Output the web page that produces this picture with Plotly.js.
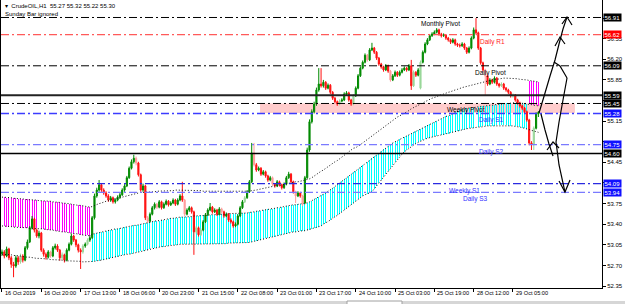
<!DOCTYPE html>
<html><head><meta charset="utf-8">
<script src="https://cdn.plot.ly/plotly-3.0.1.min.js"></script>
<style>html,body{margin:0;padding:0;background:#fff}#chart{width:625px;height:304px}</style>
</head><body><div id="chart"></div>
<script>
// ---- data ----
const open = [
52.90,52.93,52.86,52.98,52.83,52.72,52.69,52.83,52.76,52.86,
52.79,53.00,53.10,53.34,53.49,53.30,53.20,53.25,52.96,52.89,
52.84,52.93,52.86,53.00,53.03,52.96,52.83,52.88,52.79,52.96,
53.06,53.20,53.13,53.05,52.96,52.93,53.03,53.06,53.13,53.17,
53.51,53.88,53.98,54.07,53.98,53.93,53.88,53.81,53.85,53.78,
53.81,53.86,53.90,53.98,54.05,54.19,54.35,54.46,54.52,54.44,
54.24,53.98,54.05,53.51,53.45,53.57,53.68,53.74,53.69,53.78,
53.68,53.74,53.79,53.73,53.76,53.81,53.74,53.81,53.88,53.81,
53.57,53.64,53.68,53.61,53.27,53.34,53.22,53.30,53.44,53.56,
53.64,53.69,53.61,53.64,53.57,53.66,53.61,53.54,53.57,53.47,
53.44,53.37,53.40,53.54,53.68,53.78,53.85,53.95,54.12,54.61,
54.41,54.32,54.35,54.25,54.29,54.22,54.15,54.19,54.08,54.05,
54.12,54.07,54.02,54.08,54.19,54.25,54.12,53.95,53.88,53.93,
53.88,53.76,54.19,54.66,55.14,55.31,55.44,55.68,55.78,55.75,
55.81,55.71,55.76,55.64,55.54,55.48,55.44,55.49,55.51,55.61,
55.63,55.51,55.44,55.58,55.71,55.92,56.05,56.15,56.27,56.19,
56.36,56.39,56.32,56.22,56.12,56.07,56.02,56.09,56.00,55.85,
55.92,55.98,55.93,55.98,56.02,56.05,56.02,56.09,55.75,55.98,
55.93,55.71,56.15,56.32,56.46,56.53,56.60,56.63,56.66,56.70,
56.63,56.60,56.61,56.56,56.53,56.49,56.53,56.46,56.44,56.43,
56.46,56.39,56.32,56.39,56.56,56.70,56.65,56.39,56.14,56.02,
55.92,55.78,55.85,55.81,55.88,55.78,55.75,55.78,55.71,55.68,
55.64,55.58,55.59,55.51,55.46,55.41,55.37,55.31,55.17,54.78,
54.75,55.03,55.27];
const high = [
52.97,52.96,53.02,53.00,52.86,52.76,52.87,52.86,52.90,52.89,
53.03,53.14,53.37,53.54,53.51,53.33,53.29,53.27,52.99,52.92,
52.96,52.95,53.03,53.07,53.06,52.98,52.92,52.90,52.99,53.09,
53.24,53.22,53.15,53.07,52.99,53.06,53.09,53.16,53.21,53.54,
53.92,54.02,54.15,54.10,54.01,53.96,53.91,53.88,53.87,53.84,
53.89,53.93,54.01,54.08,54.22,54.38,54.50,54.58,54.55,54.46,
54.26,54.09,54.07,53.54,53.60,53.71,53.77,53.76,53.81,53.80,
53.77,53.82,53.81,53.79,53.84,53.83,53.84,53.91,54.12,53.83,
53.67,53.71,53.70,53.63,53.37,53.36,53.33,53.47,53.59,53.67,
53.76,53.71,53.67,53.66,53.69,53.68,53.63,53.60,53.59,53.50,
53.46,53.43,53.57,53.71,53.81,53.88,53.98,54.15,54.78,54.78,
54.44,54.38,54.37,54.32,54.31,54.24,54.22,54.21,54.10,54.15,
54.14,54.09,54.11,54.22,54.29,54.27,54.14,53.97,53.96,53.95,
53.90,54.22,54.70,55.18,55.35,55.48,55.72,56.05,56.05,55.85,
55.83,55.79,55.78,55.66,55.56,55.50,55.52,55.54,55.64,55.66,
55.65,55.53,55.61,55.74,55.95,56.08,56.18,56.30,56.29,56.39,
56.48,56.41,56.34,56.24,56.14,56.09,56.12,56.11,56.02,55.95,
56.01,56.00,56.01,56.05,56.08,56.07,56.12,56.19,56.01,56.00,
56.05,56.18,56.35,56.49,56.56,56.63,56.66,56.69,56.73,56.72,
56.65,56.64,56.63,56.58,56.55,56.56,56.55,56.48,56.47,56.49,
56.48,56.41,56.42,56.59,56.74,56.90,56.67,56.41,56.16,56.04,
55.94,55.88,55.87,55.91,55.90,55.80,55.81,55.80,55.73,55.70,
55.66,55.62,55.61,55.53,55.48,55.43,55.39,55.33,55.19,54.81,
55.06,55.30,55.32];
const low = [
52.86,52.82,52.84,52.79,52.66,52.50,52.66,52.71,52.73,52.75,
52.77,52.97,53.08,53.31,53.26,53.17,53.16,52.93,52.85,52.80,
52.82,52.83,52.84,52.97,52.93,52.78,52.80,52.75,52.77,52.94,
53.04,53.10,53.01,52.92,52.64,52.90,53.00,53.04,53.10,53.15,
53.48,53.85,53.95,53.95,53.90,53.85,53.78,53.78,53.75,53.75,
53.79,53.83,53.88,53.95,54.03,54.17,54.33,54.43,54.40,54.21,
53.95,53.95,53.47,53.42,53.43,53.55,53.65,53.66,53.67,53.65,
53.66,53.72,53.70,53.71,53.74,53.71,53.72,53.79,53.78,53.54,
53.55,53.61,53.58,52.88,53.24,53.19,53.20,53.28,53.42,53.54,
53.62,53.58,53.59,53.54,53.55,53.58,53.51,53.52,53.44,53.41,
53.34,53.35,53.38,53.52,53.66,53.76,53.83,53.93,54.10,54.38,
54.29,54.30,54.22,54.23,54.19,54.12,54.13,54.05,54.02,54.03,
54.04,53.99,54.00,54.06,54.17,54.09,53.92,53.76,53.86,53.85,
53.71,53.74,54.17,54.63,55.11,55.28,55.41,55.65,55.72,55.72,
55.68,55.69,55.61,55.51,55.45,55.41,55.42,55.47,55.49,55.58,
55.48,55.41,55.42,55.56,55.69,55.90,56.03,56.13,56.16,56.17,
56.34,56.29,56.19,56.09,56.04,55.99,56.00,55.97,55.82,55.83,
55.90,55.90,55.91,55.96,56.00,55.99,56.00,55.68,55.73,55.90,
55.91,55.69,56.13,56.30,56.44,56.51,56.58,56.61,56.64,56.60,
56.57,56.58,56.53,56.50,56.46,56.47,56.43,56.41,56.40,56.41,
56.36,56.29,56.30,56.37,56.54,56.62,56.36,56.11,55.99,55.59,
55.75,55.76,55.78,55.79,55.75,55.72,55.73,55.68,55.65,55.61,
55.55,55.55,55.48,55.43,55.38,55.34,55.28,55.14,54.74,54.66,
54.66,55.01,55.22];
const close = [
52.93,52.86,52.98,52.83,52.72,52.69,52.83,52.76,52.86,52.79,
53.00,53.10,53.34,53.49,53.30,53.20,53.25,52.96,52.89,52.84,
52.93,52.86,53.00,53.03,52.96,52.83,52.88,52.79,52.96,53.06,
53.20,53.13,53.05,52.96,52.93,53.03,53.06,53.13,53.17,53.51,
53.88,53.98,54.07,53.98,53.93,53.88,53.81,53.85,53.78,53.81,
53.86,53.90,53.98,54.05,54.19,54.35,54.46,54.52,54.44,54.24,
53.98,54.05,53.51,53.45,53.57,53.68,53.74,53.69,53.78,53.68,
53.74,53.79,53.73,53.76,53.81,53.74,53.81,53.88,53.81,53.57,
53.64,53.68,53.61,53.27,53.34,53.22,53.30,53.44,53.56,53.64,
53.69,53.61,53.64,53.57,53.66,53.61,53.54,53.57,53.47,53.44,
53.37,53.40,53.54,53.68,53.78,53.85,53.95,54.12,54.61,54.41,
54.32,54.35,54.25,54.29,54.22,54.15,54.19,54.08,54.05,54.12,
54.07,54.02,54.08,54.19,54.25,54.12,53.95,53.88,53.93,53.88,
53.76,54.19,54.66,55.14,55.31,55.44,55.68,55.78,55.75,55.81,
55.71,55.76,55.64,55.54,55.48,55.44,55.49,55.51,55.61,55.63,
55.51,55.44,55.58,55.71,55.92,56.05,56.15,56.27,56.19,56.36,
56.39,56.32,56.22,56.12,56.07,56.02,56.09,56.00,55.85,55.92,
55.98,55.93,55.98,56.02,56.05,56.02,56.09,55.75,55.98,55.93,
56.02,56.15,56.32,56.46,56.53,56.60,56.63,56.66,56.70,56.63,
56.60,56.61,56.56,56.53,56.49,56.53,56.46,56.44,56.43,56.46,
56.39,56.32,56.39,56.56,56.70,56.65,56.39,56.14,56.02,55.92,
55.78,55.85,55.81,55.88,55.78,55.75,55.78,55.71,55.68,55.64,
55.58,55.59,55.51,55.46,55.41,55.37,55.31,55.17,54.78,54.75,
55.03,55.27,55.30];
// bars painted in the pale shade
const paleBars = [8,21,26,35,37,58,63,67,79,84,86,95,105,109,117,127,130,146,152,158,168,178,181,209,216,221,230];

// channel indicator: upper, middle, lower lines
const bandUpper = [
53.86,53.86,53.85,53.85,53.85,53.84,53.84,53.83,53.83,53.83,
53.82,53.82,53.82,53.81,53.81,53.81,53.80,53.80,53.80,53.79,
53.79,53.79,53.78,53.78,53.77,53.77,53.76,53.76,53.75,53.75,
53.74,53.73,53.73,53.72,53.72,53.71,53.70,53.70,53.69,
53.70,53.72,53.73,53.75,53.76,53.78,53.79,53.80,53.81,53.82,
53.83,53.84,53.85,53.86,53.87,53.88,53.89,53.90,53.91,53.93,
53.93,53.94,53.94,53.94,53.95,53.95,53.95,53.95,53.96,53.96,
53.96,53.96,53.97,53.97,53.97,53.97,53.98,53.98,53.98,53.98,
53.98,53.98,53.98,53.97,53.97,53.97,53.97,53.97,53.96,53.96,
53.96,53.96,53.96,53.96,53.96,53.95,53.95,53.95,53.95,53.95,
53.95,53.95,53.95,53.95,53.95,53.95,53.95,53.95,
53.96,53.97,53.97,53.98,53.99,54.00,54.01,54.01,54.02,54.03,
54.04,54.05,54.05,54.06,54.07,54.08,54.09,54.10,54.11,54.11,
54.12,54.12,54.13,54.13,54.14,54.15,
54.17,54.19,54.22,54.24,54.27,54.30,54.32,54.35,54.38,54.40,
54.43,54.46,54.48,54.51,54.54,54.57,54.60,54.63,54.66,54.69,
54.70,54.72,54.75,54.78,54.81,54.84,54.87,54.90,54.93,54.96,
54.99,55.02,55.05,55.08,55.11,55.14,55.17,55.19,55.22,55.24,
55.26,55.29,55.31,55.33,55.36,55.38,55.40,55.42,55.44,55.46,
55.48,55.51,55.52,55.54,55.55,55.57,55.58,55.60,55.61,55.63,
55.64,55.65,55.67,55.68,55.69,55.71,55.72,55.73,55.74,55.76,
55.77,55.78,55.79,55.80,55.81,55.82,55.83,55.84,55.85,55.85,
55.86,55.86,55.87,55.87,55.88,55.88,55.88,55.88,55.87,55.87,
55.87,55.86,55.86,55.85,55.85,55.84,55.84,55.83,55.82,55.82];
const bandMiddle = [
53.37,53.37,53.36,53.36,53.36,53.35,53.35,53.35,53.34,53.34,
53.34,53.34,53.33,53.33,53.33,53.33,53.32,53.32,53.32,53.31,
53.31,53.30,53.30,53.29,53.28,53.28,53.27,53.27,53.26,53.25,
53.25,53.24,53.24,53.23,53.22,53.22,53.21,53.21,53.20,
53.23,53.24,53.25,53.26,53.27,53.27,53.28,53.29,53.30,53.31,
53.32,53.32,53.33,53.34,53.35,53.35,53.36,53.37,53.38,53.38,
53.39,53.40,53.41,53.42,53.42,53.43,53.44,53.45,53.46,53.46,
53.47,53.48,53.48,53.49,53.50,53.50,53.51,53.51,53.52,53.52,
53.52,53.53,53.53,53.53,53.54,53.54,53.54,53.55,53.55,53.55,
53.55,53.56,53.56,53.56,53.56,53.57,53.57,53.57,53.57,53.58,
53.58,53.58,53.58,53.58,53.59,53.59,53.59,53.59,
53.60,53.60,53.61,53.62,53.62,53.63,53.64,53.64,53.65,53.66,
53.66,53.67,53.68,53.68,53.69,53.70,53.71,53.71,53.72,53.73,
53.73,53.74,53.74,53.75,53.75,53.76,
53.78,53.80,53.82,53.84,53.86,53.89,53.91,53.93,53.96,53.98,
54.01,54.04,54.07,54.10,54.13,54.16,54.19,54.22,54.25,54.28,
54.31,54.34,54.37,54.40,54.43,54.46,54.49,54.52,54.55,54.58,
54.61,54.64,54.67,54.70,54.73,54.76,54.78,54.80,54.82,54.84,
54.86,54.88,54.90,54.92,54.94,54.96,54.98,55.00,55.02,55.04,
55.06,55.08,55.10,55.12,55.14,55.15,55.17,55.19,55.21,55.23,
55.24,55.26,55.28,55.30,55.32,55.34,55.35,55.36,55.37,55.37,
55.38,55.38,55.39,55.39,55.40,55.40,55.41,55.41,55.42,55.42,
55.43,55.43,55.44,55.44,55.45,55.45,55.45,55.46,55.46,55.46,
55.46,55.46,55.45,55.45,55.44,55.44,55.43,55.42,55.42,55.41];
const bandLower = [
52.89,52.89,52.88,52.88,52.88,52.87,52.87,52.86,52.86,52.85,
52.84,52.84,52.84,52.83,52.83,52.82,52.82,52.82,52.81,52.81,
52.81,52.80,52.80,52.80,52.79,52.79,52.79,52.78,52.78,52.78,
52.78,52.77,52.77,52.77,52.77,52.76,52.76,52.76,52.76,
52.76,52.77,52.78,52.78,52.79,52.80,52.81,52.81,52.82,52.83,
52.84,52.85,52.86,52.87,52.88,52.89,52.89,52.90,52.91,52.92,
52.93,52.94,52.95,52.96,52.97,52.98,52.99,53.00,53.00,53.01,
53.02,53.02,53.03,53.03,53.04,53.04,53.05,53.05,53.06,53.06,
53.06,53.06,53.06,53.06,53.06,53.06,53.06,53.07,53.07,53.07,
53.07,53.07,53.07,53.07,53.07,53.07,53.07,53.07,53.07,53.08,
53.08,53.08,53.08,53.08,53.08,53.08,53.08,53.08,
53.09,53.10,53.11,53.12,53.13,53.14,53.15,53.16,53.17,53.18,
53.18,53.19,53.20,53.21,53.22,53.23,53.24,53.25,53.26,53.27,
53.27,53.28,53.28,53.29,53.29,53.30,
53.31,53.32,53.33,53.34,53.35,53.37,53.40,53.42,53.45,53.47,
53.50,53.52,53.55,53.58,53.61,53.64,53.67,53.70,53.73,53.76,
53.79,53.82,53.86,53.88,53.90,53.92,53.93,53.95,54.00,54.05,
54.10,54.15,54.20,54.25,54.30,54.35,54.40,54.45,54.50,54.55,
54.59,54.63,54.66,54.69,54.72,54.75,54.77,54.79,54.81,54.83,
54.85,54.86,54.87,54.88,54.89,54.90,54.91,54.92,54.92,54.93,
54.94,54.95,54.96,54.97,54.98,54.99,55.00,55.01,55.02,55.03,
55.03,55.04,55.04,55.05,55.05,55.06,55.06,55.07,55.07,55.07,
55.07,55.08,55.08,55.08,55.08,55.08,55.07,55.07,55.07,55.06,
55.06,55.05,55.04,55.03,55.02,55.01,55.00,54.98,54.97,54.96];
// bar ranges where the channel is bearish (magenta)
const bearRuns = [[0,38],[228,232]];

// horizontal levels
const levelPrices = [56.91, 56.62, 56.09, 55.59, 55.45, 55.28, 54.75, 54.60, 54.09, 53.94];
const levelNames  = ["Monthly Pivot","Daily R1","Daily Pivot","","Weekly Pivot","Daily S1","Daily S2","","Weekly S1","Daily S3"];
const zonePrices = [55.45, 55.29];

const timeLabels = ["16 Oct 2019","16 Oct 20:00","17 Oct 13:00","18 Oct 06:00","20 Oct 23:00","21 Oct 15:00","22 Oct 08:00","23 Oct 01:00","23 Oct 17:00","24 Oct 10:00","25 Oct 03:00","25 Oct 19:00","28 Oct 12:00","29 Oct 05:00"];
const barsPerLabel = 17;
const priceTicks = [52.35,52.70,53.05,53.40,53.75,54.10,54.45,54.80,55.15,55.50,55.85,56.20,56.55,56.90];
const header = "CrudeOIL,H1  55.27 55.32 55.22 55.30";

// ---- build ----
const N = close.length;
const idx = close.map((_, i) => i);
const paleSet = new Set(paleBars);
function subset(pale) {
  const o = {x: [], open: [], high: [], low: [], close: []};
  idx.forEach(i => {
    if (paleSet.has(i) === pale) {
      o.x.push(i); o.open.push(open[i]); o.high.push(high[i]); o.low.push(low[i]); o.close.push(close[i]);
    }
  });
  return o;
}
const isBear = i => bearRuns.some(r => i >= r[0] && i <= r[1]);

const cyan = {x: [], base: [], y: []}, mag = {x: [], base: [], y: []};
idx.forEach(i => {
  if (isBear(i)) { mag.x.push(i); mag.base.push(bandMiddle[i]); mag.y.push(bandUpper[i] - bandMiddle[i]); }
  else { cyan.x.push(i); cyan.base.push(bandLower[i]); cyan.y.push(bandMiddle[i] - bandLower[i]); }
});

const FONT = '"Liberation Sans", Arial, sans-serif';
const traces = [
  {type: 'bar', x: cyan.x, base: cyan.base, y: cyan.y, width: 0.42, marker: {color: '#00ffff', line: {width: 0}}, hoverinfo: 'skip'},
  {type: 'bar', x: mag.x, base: mag.base, y: mag.y, width: 0.42, marker: {color: '#ff00ff', line: {width: 0}}, hoverinfo: 'skip'},
  {type: 'scatter', mode: 'lines', x: idx, y: bandUpper, line: {color: '#111', width: 1, dash: '1px,2px'}, hoverinfo: 'skip'},
  {type: 'scatter', mode: 'lines', x: idx, y: bandMiddle, line: {color: '#111', width: 1, dash: '1px,2px'}, hoverinfo: 'skip'},
  {type: 'scatter', mode: 'lines', x: idx, y: bandLower, line: {color: '#111', width: 1, dash: '1px,2px'}, hoverinfo: 'skip'},
];
const norm = subset(false), pale = subset(true);
traces.push(Object.assign({type: 'candlestick', whiskerwidth: 0, hoverinfo: 'skip',
  increasing: {line: {color: '#9ad79a', width: 1}, fillcolor: '#9ad79a'},
  decreasing: {line: {color: '#ff9c9c', width: 1}, fillcolor: '#ff9c9c'}}, pale));
traces.push(Object.assign({type: 'candlestick', whiskerwidth: 0, hoverinfo: 'skip',
  increasing: {line: {color: '#008a00', width: 1}, fillcolor: '#008a00'},
  decreasing: {line: {color: '#ff1010', width: 1}, fillcolor: '#ff1010'}}, norm));

// level styling
const DD = '8px,3px,2px,3px';
const levelStyle = [
  {c: '#000', d: DD, w: 1, box: '#000', tc: '#000'},
  {c: '#ff5a5a', d: DD, w: 1.3, box: '#ff0000', tc: '#ff2020'},
  {c: '#000', d: DD, w: 1, box: '#000', tc: '#000'},
  {c: '#222', d: 'solid', w: 2, box: '#000', tc: '#000'},
  {c: '#000', d: DD, w: 1, box: '#000', tc: '#000'},
  {c: '#3c3cff', d: DD, w: 1.3, box: '#1010ff', tc: '#3030ff'},
  {c: '#7a7aff', d: DD, w: 1.3, box: '#1010ff', tc: '#3030ff'},
  {c: '#000', d: 'solid', w: 1.5, box: '#000', tc: '#000'},
  {c: '#2a2ae0', d: DD, w: 1.3, box: '#1010ff', tc: '#3030ff'},
  {c: '#7a7aff', d: DD, w: 1.3, box: '#1010ff', tc: '#3030ff'},
];
const labelBar = [180.5, 206, 203.5, 0, 191.5, 205.5, 205.5, 0, 192.5, 198.5];

const shapes = [];
shapes.push({type: 'rect', xref: 'x', yref: 'y', x0: 111.6, x1: 247.8, y0: zonePrices[1], y1: zonePrices[0],
  fillcolor: '#ffcccc', line: {width: 0}, layer: 'below'});
levelPrices.forEach((p, k) => {
  const s = levelStyle[k];
  shapes.push({type: 'line', xref: 'paper', x0: 0, x1: 1, yref: 'y', y0: p, y1: p, layer: 'above',
    line: {color: s.c, width: s.w, dash: s.d}});
});
// window strip at the very bottom
shapes.push({type: 'rect', xref: 'paper', yref: 'paper', x0: -0.01, x1: 1.05, y0: (288 - 301) / 288, y1: (288 - 305) / 288,
  fillcolor: '#d6d6d6', line: {width: 0}, layer: 'above'});
shapes.push({type: 'rect', xref: 'paper', yref: 'paper', x0: (347 - 1) / 601, x1: (402 - 1) / 601, y0: (288 - 301) / 288, y1: (288 - 305) / 288,
  fillcolor: '#ffffff', line: {width: 1, color: '#a0a0a0'}, layer: 'above'});
// hand-drawn arrows (pixel sketch on the picture)
const px = (x, y) => `${((x - 1) / 601).toFixed(4)},${((288 - y) / 288).toFixed(4)}`;
const strokes = [
  [[539,113],[545,93],[550,76],[555,60],[559,44],[563,29],[567,17]],
  [[562,24],[567,17],[572,25]],
  [[555,46],[560,37],[565,44]],
  [[554,62],[560,66],[567,78]],
  [[567,78],[563,100],[559,122],[556,142],[559,165],[565,192]],
  [[559,181],[565,192],[570,180]],
  [[541,114],[545,130],[549,144],[553,156]],
  [[547,150],[553,142],[559,148]],
];
strokes.forEach(st => {
  const d = st.map((p, j) => (j ? 'L' : 'M') + px(p[0], p[1])).join(' ');
  shapes.push({type: 'path', xref: 'paper', yref: 'paper', path: d, line: {color: '#000', width: 1.2}, layer: 'above'});
});

const annotations = [];
// level names
levelPrices.forEach((p, k) => {
  if (!levelNames[k]) return;
  annotations.push({xref: 'x', yref: 'y', x: labelBar[k], y: p, xanchor: 'left', yanchor: 'top', yshift: -1,
    text: levelNames[k], showarrow: false, font: {family: FONT, size: 6.5, color: levelStyle[k].tc}});
});
// price boxes on the scale
levelPrices.forEach((p, k) => {
  annotations.push({xref: 'paper', yref: 'y', x: 1, y: p, xanchor: 'left', yanchor: 'middle', xshift: 1,
    text: p.toFixed(2), showarrow: false, bgcolor: levelStyle[k].box, borderpad: 0.5,
    font: {family: FONT, size: 6, color: '#fff'}});
});
// time labels
timeLabels.forEach((t, k) => {
  annotations.push({xref: 'x', yref: 'paper', x: k * barsPerLabel, y: 0, yshift: -5, xanchor: 'left', yanchor: 'middle', xshift: 1,
    text: t, showarrow: false, font: {family: FONT, size: 5.6, color: '#000'}});
});
annotations.push({xref: 'paper', yref: 'paper', x: 0.004, y: (288 - 6) / 288, xanchor: 'left', yanchor: 'middle',
  text: '\u25BE  ' + header, showarrow: false, font: {family: FONT, size: 6, color: '#000'}});
annotations.push({xref: 'paper', yref: 'paper', x: 0.004, y: (288 - 14) / 288, xanchor: 'left', yanchor: 'middle',
  text: 'Sunday Bar ignored', showarrow: false, font: {family: FONT, size: 6, color: '#000'}});

// tick labels hidden behind the level boxes are left blank
const covered = v => levelPrices.some(p => Math.abs(p - v) < 0.06) && v !== 56.55;
const layout = {
  width: 625, height: 304, margin: {l: 1, r: 23, t: 0, b: 16, pad: 0},
  paper_bgcolor: '#fff', plot_bgcolor: '#fff', showlegend: false,
  barmode: 'overlay', bargap: 0,
  font: {family: FONT, size: 6, color: '#000'},
  xaxis: {range: [-0.43, 259.5], rangeslider: {visible: false}, showgrid: false, zeroline: false,
    showline: true, linecolor: '#000', linewidth: 1, ticks: 'outside', ticklen: 3, tickcolor: '#000',
    tickvals: timeLabels.map((_, k) => k * barsPerLabel), showticklabels: false, fixedrange: true},
  yaxis: {range: [52.317, 57.207], side: 'right', showgrid: false, zeroline: false,
    showline: true, mirror: true, linecolor: '#000', linewidth: 1, ticks: 'outside', ticklen: 3, tickcolor: '#000',
    tickvals: priceTicks, ticktext: priceTicks.map(v => covered(v) ? '' : v.toFixed(2)),
    tickfont: {family: FONT, size: 6, color: '#000'}, fixedrange: true},
  shapes, annotations
};
Plotly.newPlot('chart', traces, layout, {displayModeBar: false, staticPlot: true});
</script></body></html>
